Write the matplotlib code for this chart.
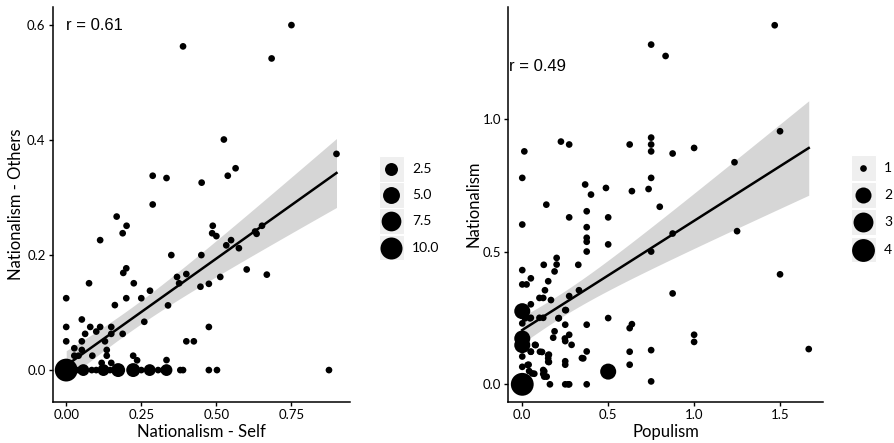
import numpy as np
import matplotlib
matplotlib.use("Agg")
import matplotlib.pyplot as plt
from matplotlib.patches import Rectangle

# ---------------- data ----------------
# Left panel: Nationalism - Self (x) vs Nationalism - Others (y), n = overlapping count
left_x = [0.750, 0.389, 0.684, 0.525, 0.900, 0.288, 0.334, 0.538, 0.564, 0.451,
          0.288, 0.168, 0.201, 0.188, 0.113, 0.488, 0.486, 0.500, 0.652, 0.629,
          0.634, 0.549, 0.533, 0.575, 0.350, 0.450, 0.601, 0.668, 0.369, 0.400,
          0.376, 0.513, 0.447, 0.475, 0.279, 0.339, 0.475, 0.400, 0.425, 0.334,
          0.000, 0.076, 0.000, 0.000, 0.052, 0.080, 0.063, 0.052, 0.027, 0.052,
          0.027, 0.041, 0.100, 0.113, 0.150, 0.150, 0.129, 0.188, 0.087, 0.135,
          0.135, 0.118, 0.150, 0.162, 0.190, 0.200, 0.200, 0.225, 0.250, 0.260,
          0.223, 0.236,
          0.000, 0.041, 0.057, 0.085, 0.100, 0.124, 0.146, 0.173, 0.223, 0.250,
          0.278, 0.306, 0.323, 0.334, 0.380, 0.389, 0.475, 0.502, 0.875]
left_y = [0.600, 0.563, 0.542, 0.401, 0.376, 0.338, 0.334, 0.338, 0.351, 0.326,
          0.288, 0.267, 0.251, 0.238, 0.226, 0.251, 0.238, 0.233, 0.251, 0.241,
          0.237, 0.226, 0.217, 0.212, 0.200, 0.200, 0.175, 0.166, 0.162, 0.167,
          0.151, 0.162, 0.145, 0.150, 0.138, 0.1125, 0.075, 0.050, 0.050, 0.0174,
          0.125, 0.151, 0.075, 0.050, 0.088, 0.075, 0.063, 0.050, 0.038, 0.035,
          0.025, 0.025, 0.067, 0.075, 0.075, 0.063, 0.050, 0.063, 0.025, 0.035,
          0.025, 0.0125, 0.0125, 0.113, 0.169, 0.177, 0.125, 0.151, 0.125, 0.084,
          0.025, 0.017,
          0.0, 0.0, 0.0, 0.0, 0.0, 0.0, 0.0, 0.0, 0.0, 0.0,
          0.0, 0.0, 0.0, 0.0, 0.0, 0.0, 0.0, 0.0, 0.0]
left_n = [1] * 72 + [11, 1, 2, 1, 1, 2, 1, 3, 3, 1, 2, 1, 1, 2, 1, 1, 1, 1, 1]

# Right panel: Populism (x) vs Nationalism (y)
right_x = [1.469, 0.750, 0.834, 1.500, 0.012, 0.225, 0.273, 0.625, 0.750, 0.750,
           0.750, 0.875, 1.000, 1.235, 0.000, 0.140, 0.366, 0.400, 0.487, 0.638,
           0.735, 0.750, 0.800, 0.273, 0.375, 0.500, 0.000, 0.375, 0.375, 0.375,
           0.375, 0.500, 0.875, 1.250, 0.750, 1.500, 0.875, 0.500, 0.625, 0.638,
           1.000, 1.000, 0.750, 0.625, 0.625, 0.500, 0.750, 1.667, 0.375, 0.375,
           0.375, 0.347, 0.273, 0.287, 0.250, 0.250, 0.250, 0.250, 0.250, 0.273,
           0.161, 0.128, 0.128, 0.155, 0.155, 0.115, 0.074, 0.050, 0.037, 0.058,
           0.188, 0.180, 0.213, 0.330, 0.273, 0.250, 0.167, 0.132, 0.122, 0.100,
           0.151, 0.125, 0.188, 0.200, 0.200, 0.326, 0.050, 0.000, 0.000, 0.025,
           0.050, 0.050, 0.100, 0.122, 0.000, 0.000, 0.000, 0.000, 0.016, 0.045,
           0.210, 0.000, 0.103, 0.151, 0.151, 0.050, 0.355, 0.151, 0.031, 0.122,
           0.122, 0.142, 0.040, 0.070, 0.267, 0.254, 0.248, 0.078, 0.000, 0.000]
right_y = [1.355, 1.282, 1.239, 0.955, 0.879, 0.916, 0.905, 0.905, 0.931, 0.905,
           0.879, 0.871, 0.892, 0.838, 0.779, 0.678, 0.754, 0.716, 0.741, 0.729,
           0.737, 0.779, 0.670, 0.630, 0.653, 0.630, 0.603, 0.593, 0.553, 0.538,
           0.501, 0.528, 0.569, 0.578, 0.501, 0.415, 0.343, 0.250, 0.212, 0.227,
           0.187, 0.160, 0.129, 0.123, 0.074, 0.048, 0.011, 0.133, 0.225, 0.124,
           0.000, 0.099, 0.187, 0.149, 0.163, 0.225, 0.087, 0.074, 0.000, 0.000,
           0.000, 0.029, 0.049, 0.112, 0.084, 0.122, 0.149, 0.123, 0.074, 0.041,
           0.200, 0.176, 0.250, 0.355, 0.333, 0.280, 0.318, 0.355, 0.326, 0.326,
           0.389, 0.451, 0.426, 0.452, 0.477, 0.451, 0.400, 0.431, 0.377, 0.377,
           0.302, 0.251, 0.251, 0.251, 0.276, 0.173, 0.148, 0.000, 0.249, 0.249,
           0.249, 0.230, 0.123, 0.110, 0.098, 0.123, 0.098, 0.085, 0.073, 0.054,
           0.039, 0.029, 0.050, 0.040, 0.000, 0.280, 0.173, 0.148, 0.105, 0.066]
right_n = [1] * 45 + [2] + [1] * 48 + [2, 2, 2, 4] + [1] * 22

# fitted lines (intercept, slope) and CI half-width parameters
left_fit = (0.008, 0.372)
left_ci = (0.020, 0.0808, 0.20)     # min half-width, growth, x at minimum
right_fit = (0.205, 0.412)
right_ci = (0.045, 0.1175, 0.20)

left_r = "r = 0.61"
right_r = "r = 0.49"

left_breaks = [2.5, 5.0, 7.5, 10.0]
left_break_labels = ["2.5", "5.0", "7.5", "10.0"]
right_breaks = [1, 2, 3, 4]
right_break_labels = ["1", "2", "3", "4"]

# ---------------- styling helpers ----------------
W, H, DPI = 894, 443, 100
TICK_FONT = "Lato"
RFONT = "Liberation Sans"


def size_pts2(n, nmin, nmax):
    n = np.asarray(n, dtype=float)
    frac = np.clip((n - nmin) / (nmax - nmin), 0, 1)
    gg = 1 + 5 * np.sqrt(frac)
    d_px = 3.23 * gg + 3.47
    return (d_px * 72.0 / DPI) ** 2


fig = plt.figure(figsize=(W / DPI, H / DPI), dpi=DPI)


def px_axes(x0, x1, ytop, ybot):
    return fig.add_axes([x0 / W, (H - ybot) / H, (x1 - x0) / W, (ybot - ytop) / H])


def style(ax):
    for s in ["top", "right"]:
        ax.spines[s].set_visible(False)
    for s in ["left", "bottom"]:
        ax.spines[s].set_linewidth(1.1)
        ax.spines[s].set_color("black")
    ax.tick_params(length=2.6, width=1.0, color="black", pad=2.5,
                   labelsize=9.5, labelcolor="black")
    for lab in ax.get_xticklabels() + ax.get_yticklabels():
        lab.set_fontfamily(TICK_FONT)


def panel(ax, xs, ys, ns, nmax, fit, ci, xlim, ylim):
    xs = np.asarray(xs); ys = np.asarray(ys)
    b0, b1 = fit
    hmin, growth, xc = ci
    gx = np.linspace(min(xs), max(xs), 200)
    gy = b0 + b1 * gx
    half = np.sqrt(hmin ** 2 + (growth * (gx - xc)) ** 2)
    ax.fill_between(gx, gy - half, gy + half, color="#999999", alpha=0.4,
                    linewidth=0, zorder=1)
    ax.scatter(xs, ys, s=size_pts2(ns, 1, nmax), color="black",
               linewidths=0, zorder=2)
    ax.plot(gx, gy, color="black", lw=1.8, zorder=3)
    ax.set_xlim(*xlim)
    ax.set_ylim(*ylim)


# left panel
axL = px_axes(52.7, 350, 6.7, 401.7)
panel(axL, left_x, left_y, left_n, 11, left_fit, left_ci, (-0.045, 0.945), (-0.055, 0.632))
axL.set_xticks([0, 0.25, 0.5, 0.75], ["0.00", "0.25", "0.50", "0.75"])
axL.set_yticks([0, 0.2, 0.4, 0.6], ["0.0", "0.2", "0.4", "0.6"])
style(axL)
axL.set_xlabel("Nationalism - Self", fontsize=12, family=TICK_FONT, labelpad=2)
axL.set_ylabel("Nationalism - Others", fontsize=12, family=TICK_FONT, labelpad=2)
axL.text(0.0, 0.6, left_r, fontsize=12, family=RFONT, ha="left", va="center")

# right panel
axR = px_axes(508, 823, 6.7, 401.7)
panel(axR, right_x, right_y, right_n, 4, right_fit, right_ci, (-0.083, 1.75), (-0.0656, 1.425))
axR.set_xticks([0, 0.5, 1.0, 1.5], ["0.0", "0.5", "1.0", "1.5"])
axR.set_yticks([0, 0.5, 1.0], ["0.0", "0.5", "1.0"])
style(axR)
axR.set_xlabel("Populism", fontsize=12, family=TICK_FONT, labelpad=2)
axR.set_ylabel("Nationalism", fontsize=12, family=TICK_FONT, labelpad=0.5)
axR.text(-0.075, 1.2, right_r, fontsize=12, family=RFONT, ha="left", va="center")

# legends drawn in a pixel-coordinate overlay
ov = fig.add_axes([0, 0, 1, 1], zorder=5)
ov.set_xlim(0, W); ov.set_ylim(H, 0); ov.axis("off")


def legend(xc, ycs, breaks, labels, nmax, xlab):
    for yc, b, lab in zip(ycs, breaks, labels):
        ov.add_patch(Rectangle((xc - 12.5, yc - 12.8), 25, 25.6,
                               facecolor="#EFEFEF", edgecolor="white", lw=0.8))
        ov.scatter([xc], [yc], s=size_pts2([b], 1, nmax), color="black", linewidths=0)
        ov.text(xlab, yc, lab, fontsize=10, family=TICK_FONT, ha="left", va="center")


legend(391, [169, 195, 221, 247.5], left_breaks, left_break_labels, 11, 412)
legend(863, [168, 195, 222, 249.5], right_breaks, right_break_labels, 4, 884)

fig.savefig("out.png", dpi=DPI)
